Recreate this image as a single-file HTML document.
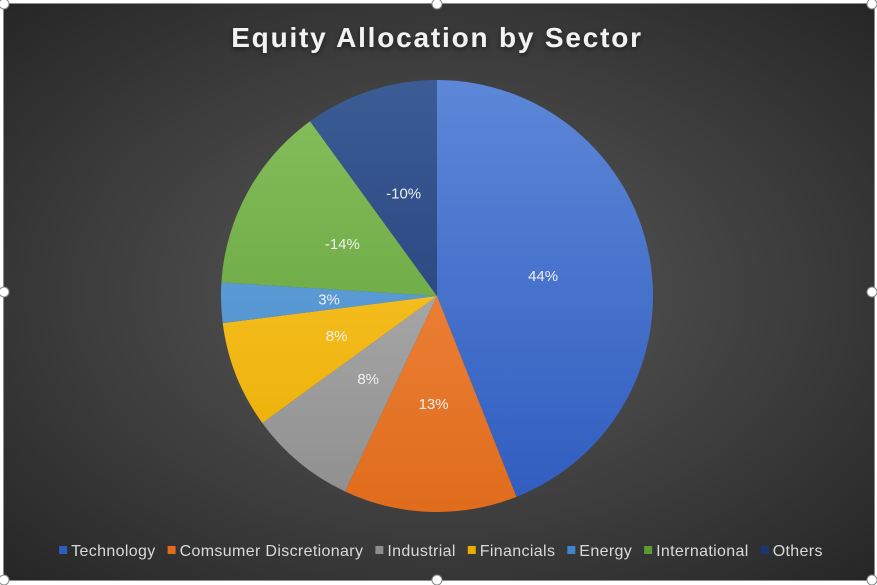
<!DOCTYPE html>
<html><head><meta charset="utf-8"><style>
html,body{margin:0;padding:0;}
body{width:877px;height:585px;overflow:hidden;background:#fff;font-family:"Liberation Sans",Arial,sans-serif;}
#chart{position:absolute;left:3px;top:3px;width:870px;height:576px;border:1px solid #8c8c8c;
background:radial-gradient(ellipse at 50% 50%,#5a5a5a 0%,#3e3e3e 55%,#262626 100%);}
</style></head><body>
<div id="chart"></div>
<svg id="svg" width="877" height="585" style="position:absolute;left:0;top:0">
<defs>
<filter id="sh" x="-10%" y="-10%" width="120%" height="120%"><feDropShadow dx="0" dy="2" stdDeviation="3" flood-color="#000" flood-opacity="0.5"/></filter>
</defs>
<text x="437" y="47" text-anchor="middle" fill="#f2f2f2" font-size="28" font-weight="bold" letter-spacing="1.8" filter="url(#sh)">Equity Allocation by Sector</text>
<g id="slices"></g><g id="labels"></g><g id="legend"></g><g id="handles"></g>
</svg>
<script>
const categories=["Technology","Comsumer Discretionary","Industrial","Financials","Energy","International","Others"];
const values=[44,13,8,8,3,14,10];
const printed=["44%","13%","8%","8%","3%","-14%","-10%"];
const colors=[["#5d87d8","#2f5cbf"],["#f5904d","#e06c1c"],["#bdbdbd","#8e8e8e"],["#ffcb3a","#e9ad00"],["#73acdf","#3f86c9"],["#86c05e","#5c9a33"],["#3b5c95","#1c3670"]];
const NS="http://www.w3.org/2000/svg";
const svg=document.getElementById('svg'),defs=svg.querySelector('defs');
const cx=437,cy=296,r=216;
const total=values.reduce((a,b)=>a+b,0);
function pt(a,rr){return [cx+rr*Math.sin(a),cy-rr*Math.cos(a)];}
let a0=0;
values.forEach((v,i)=>{
  const a1=a0+v/total*2*Math.PI;
  const g=document.createElementNS(NS,'linearGradient');
  g.setAttribute('id','g'+i);g.setAttribute('gradientUnits','userSpaceOnUse');
  g.setAttribute('x1',cx);g.setAttribute('y1',cy-r);g.setAttribute('x2',cx);g.setAttribute('y2',cy+r);
  g.innerHTML=`<stop offset="0" stop-color="${colors[i][0]}"/><stop offset="1" stop-color="${colors[i][1]}"/>`;
  defs.appendChild(g);
  const p0=pt(a0,r),p1=pt(a1,r);
  const path=document.createElementNS(NS,'path');
  path.setAttribute('d',`M${cx},${cy}L${p0[0]},${p0[1]}A${r},${r} 0 ${a1-a0>Math.PI?1:0} 1 ${p1[0]},${p1[1]}Z`);
  path.setAttribute('fill',`url(#g${i})`);
  
  
  document.getElementById('slices').appendChild(path);
  const m=(a0+a1)/2,lp=pt(m,r*0.5);
  const t=document.createElementNS(NS,'text');
  t.setAttribute('x',lp[0]);t.setAttribute('y',lp[1]+5);t.setAttribute('text-anchor','middle');
  t.setAttribute('fill','#f0f0f0');t.setAttribute('font-size','15');
  t.textContent=printed[i];
  
  
  document.getElementById('labels').appendChild(t);
  a0=a1;
});
// legend
const lg=document.getElementById('legend');
const entries=[];
categories.forEach((c,i)=>{
  const g=document.createElementNS(NS,'g');
  
  
  const rc=document.createElementNS(NS,'rect');
  rc.setAttribute('y',546);rc.setAttribute('width',8);rc.setAttribute('height',8);
  rc.setAttribute('fill',colors[i][1]);
  const t=document.createElementNS(NS,'text');
  t.setAttribute('y',556);t.setAttribute('fill','#d9d9d9');t.setAttribute('font-size','16');
  t.setAttribute('letter-spacing','0.35');
  t.textContent=c;
  g.appendChild(rc);g.appendChild(t);lg.appendChild(g);
  entries.push([rc,t,t.getComputedTextLength()]);
});
const gapIn=4,gapOut=12;
const tw=entries.reduce((s,e)=>s+8+gapIn+e[2],0)+gapOut*(entries.length-1);
let x=441-tw/2;
entries.forEach(e=>{
  e[0].setAttribute('x',x);
  e[1].setAttribute('x',x+8+gapIn);
  x+=8+gapIn+e[2]+gapOut;
});
// selection handles
const hd=document.getElementById('handles');
[[4,4],[437,4],[872,4],[4,292],[872,292],[4,580],[437,580],[872,580]].forEach(p=>{
  const c=document.createElementNS(NS,'circle');
  c.setAttribute('cx',p[0]);c.setAttribute('cy',p[1]);c.setAttribute('r',5);
  c.setAttribute('fill','#fff');c.setAttribute('stroke','#888');
  
  
  hd.appendChild(c);
});
</script>
</body></html>
